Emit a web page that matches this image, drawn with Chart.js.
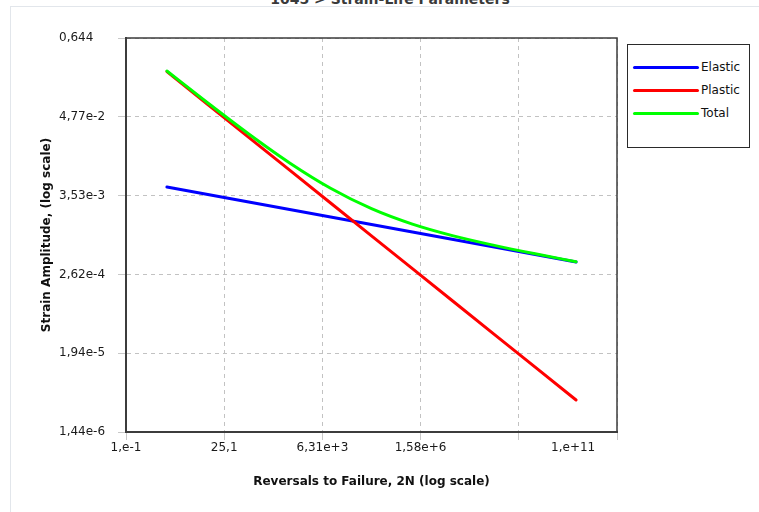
<!DOCTYPE html>
<html>
<head>
<meta charset="utf-8">
<title>1045 &gt; Strain-Life Parameters</title>
<script src="https://cdn.jsdelivr.net/npm/chart.js@4/dist/chart.umd.min.js"></script>
<style>
  html, body { margin: 0; padding: 0; background: #fff; }
  #wrap { position: relative; width: 759px; height: 512px; overflow: hidden; font-family: "DejaVu Sans", sans-serif; }
  #panel { position: absolute; left: 10px; top: 6px; width: 760px; height: 520px;
           border-left: 1px solid #e2e6eb; border-top: 1px solid #e2e6eb; }
  #heading { position: absolute; left: 0; top: -8px; width: 780px; text-align: center;
             font: bold 14px/14px "DejaVu Sans", sans-serif; color: #3a3a3a; white-space: nowrap; }
  canvas { position: absolute; left: 0; top: 0; }
  #legend { position: absolute; left: 627px; top: 44px; width: 121px; height: 102px;
            border: 1px solid #2a2a2a; background: #fff; }
  .item { position: absolute; left: 5px; height: 14px; font: 12px/14px "DejaVu Sans", sans-serif; color: #111; }
  .item .swatch { position: absolute; left: 0; top: 5.5px; width: 66px; height: 3px; border-radius: 2px; }
  .item .lbl { position: absolute; left: 68px; top: 0; white-space: nowrap; }
</style>
</head>
<body>
<div id="wrap">
  <div id="panel"></div>
  <div id="heading">1045 &gt; Strain-Life Parameters</div>
  <canvas id="chart" width="759" height="512"></canvas>
  <div id="legend"></div>
</div>
<script>
// Reversals to failure, 2N (one point per decade)
const reversals = [1, 10, 100, 1e3, 1e4, 1e5, 1e6, 1e7, 1e8, 1e9, 1e10];

// Strain amplitude components
const elastic = [4.70e-3, 3.67e-3, 2.86e-3, 2.23e-3, 1.744e-3, 1.361e-3, 1.063e-3, 8.29e-4, 6.48e-4, 5.05e-4, 3.94e-4];
const plastic = [0.212, 0.0717, 0.02424, 8.19e-3, 2.771e-3, 9.37e-4, 3.17e-4, 1.072e-4, 3.62e-5, 1.225e-5, 4.14e-6];
const total   = [0.2167, 0.0754, 0.0271, 0.01042, 4.515e-3, 2.298e-3, 1.38e-3, 9.36e-4, 6.84e-4, 5.17e-4, 3.98e-4];

// Axis ticks and their labels
const xTicks = [0.1, 25.1, 6.31e3, 1.58e6, 3.98e8, 1e11];
const xTickLabels = ['1,e-1', '25,1', '6,31e+3', '1,58e+6', '', '1,e+11'];
const yTicks = [1.44e-6, 1.94e-5, 2.62e-4, 3.53e-3, 4.77e-2, 0.644];
const yTickLabels = ['1,44e-6', '1,94e-5', '2,62e-4', '3,53e-3', '4,77e-2', '0,644'];

const seriesNames = ['Elastic', 'Plastic', 'Total'];
const seriesColors = ['#0000ff', '#ff0000', '#00ff00'];
const seriesValues = [elastic, plastic, total];

const FONT = 'DejaVu Sans';

// legend box
const legend = document.getElementById('legend');
seriesNames.forEach((name, i) => {
  const item = document.createElement('div');
  item.className = 'item';
  item.style.top = (15 + i * 23) + 'px';
  item.innerHTML = '<span class="swatch" style="background:' + seriesColors[i] + '"></span><span class="lbl">' + name + '</span>';
  legend.appendChild(item);
});

// solid frame around the plotting area
const frame = {
  id: 'frame',
  afterDraw(chart) {
    const { ctx, chartArea: a } = chart;
    ctx.save();
    ctx.strokeStyle = '#3c3c3c';
    ctx.lineWidth = 1.5;
    ctx.strokeRect(a.left, a.top, a.right - a.left, a.bottom - a.top);
    ctx.restore();
  }
};

const gridOpts = {
  color: '#c2c2c2',
  lineWidth: 1,
  tickLength: 8,
  tickColor: '#c8c8c8',
  tickBorderDash: []
};
const borderOpts = { display: true, color: '#3c3c3c', width: 2, dash: [4, 4] };

new Chart(document.getElementById('chart'), {
  type: 'line',
  data: {
    datasets: seriesNames.map((name, i) => ({
      label: name,
      data: reversals.map((x, k) => ({ x: x, y: seriesValues[i][k] })),
      borderColor: seriesColors[i],
      backgroundColor: seriesColors[i],
      borderWidth: 3,
      pointRadius: 0,
      // the total curve bends, so it is drawn smooth; the components are straight
      cubicInterpolationMode: name === 'Total' ? 'monotone' : 'default',
      tension: 0,
      borderCapStyle: 'round',
      borderJoinStyle: 'round',
      order: 2 - i
    }))
  },
  options: {
    responsive: false,
    animation: false,
    devicePixelRatio: 1,
    layout: { padding: { left: 59, top: 38, right: 142, bottom: 0 } },
    plugins: { legend: { display: false }, tooltip: { enabled: false }, title: { display: false } },
    scales: {
      x: {
        type: 'logarithmic',
        min: 0.1,
        max: 1e11,
        grid: gridOpts,
        border: borderOpts,
        afterBuildTicks(scale) { scale.ticks = xTicks.map(v => ({ value: v })); },
        afterFit(scale) { scale.height = 80; },
        ticks: {
          autoSkip: false,
          maxRotation: 0,
          minRotation: 0,
          padding: 1,
          color: '#1a1a1a',
          font: { family: FONT, size: 12 },
          callback: (v, i) => i === xTicks.length - 1 ? xTickLabels[i] + ' '.repeat(23) : xTickLabels[i]
        },
        title: {
          display: true,
          text: 'Reversals to Failure, 2N (log scale)',
          color: '#111',
          font: { family: FONT, size: 12, weight: 'bold' },
          padding: { top: 0, bottom: 23 }
        }
      },
      y: {
        type: 'logarithmic',
        min: 1.44e-6,
        max: 0.644,
        grid: gridOpts,
        border: borderOpts,
        afterBuildTicks(scale) { scale.ticks = yTicks.map(v => ({ value: v })); },
        afterFit(scale) { scale.width = 67; },
        ticks: {
          crossAlign: 'far',
          color: '#1a1a1a',
          font: { family: FONT, size: 12 },
          callback: (v, i) => yTickLabels[i]
        },
        title: {
          display: true,
          text: 'Strain Amplitude, (log scale)',
          color: '#111',
          font: { family: FONT, size: 12, weight: 'bold' },
          padding: { top: -19, bottom: 0 }
        }
      }
    }
  },
  plugins: [frame]
});
</script>
</body>
</html>
